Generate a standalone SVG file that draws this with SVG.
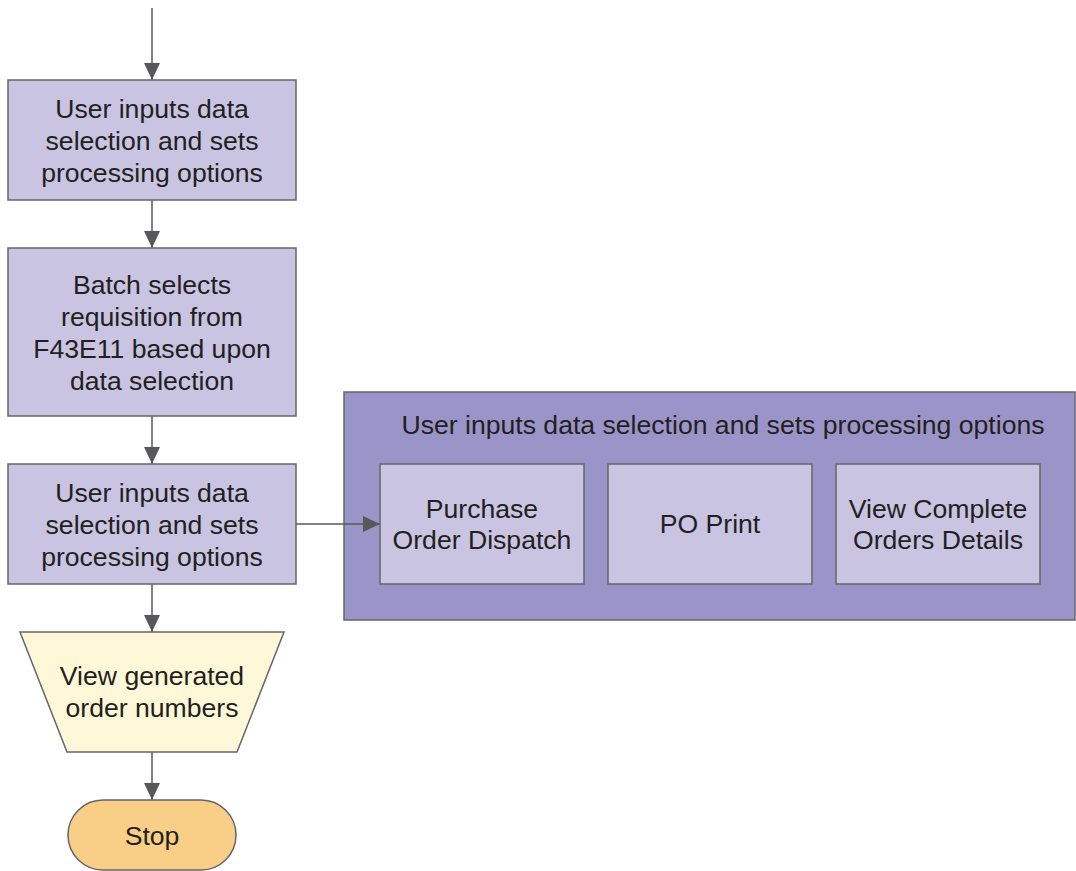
<svg xmlns="http://www.w3.org/2000/svg" width="1076" height="871" viewBox="0 0 1076 871">
<style>
text{font-family:"Liberation Sans",Arial,sans-serif;font-size:26.6px;fill:#231f20;text-anchor:middle}
.box{fill:#c8c4e2;stroke:#666;stroke-width:1.5}
.cont{fill:#9b94c9;stroke:#666;stroke-width:1.5}
.conn{stroke:#58585a;stroke-width:1.5;fill:none;marker-end:url(#ah)}
</style>
<defs>
<marker id="ah" markerUnits="userSpaceOnUse" markerWidth="17" markerHeight="16" refX="17" refY="8" orient="auto">
<path d="M0,0 L17,8 L0,16 Z" fill="#58585a"/>
</marker>
</defs>
<g id="n1"><rect class="box" x="8" y="80" width="288" height="120"/>
<text x="152" y="118">User inputs data</text><text x="152" y="150">selection and sets</text><text x="152" y="182">processing options</text></g>
<g id="n2"><rect class="box" x="8" y="248" width="288" height="168"/>
<text x="152" y="294">Batch selects</text><text x="152" y="326">requisition from</text><text x="152" y="358">F43E11 based upon</text><text x="152" y="390">data selection</text></g>
<g id="n3"><rect class="box" x="8" y="464" width="288" height="120"/>
<text x="152" y="502">User inputs data</text><text x="152" y="534">selection and sets</text><text x="152" y="566">processing options</text></g>
<g id="container"><rect class="cont" x="344" y="392" width="731" height="228"/>
<text x="723" y="434">User inputs data selection and sets processing options</text></g>
<g id="n4"><rect class="box" x="380" y="464" width="204" height="120"/>
<text x="482" y="518">Purchase</text><text x="482" y="549">Order Dispatch</text></g>
<g id="n5"><rect class="box" x="608" y="464" width="204" height="120"/>
<text x="710" y="533">PO Print</text></g>
<g id="n6"><rect class="box" x="836" y="464" width="204" height="120"/>
<text x="938" y="518">View Complete</text><text x="938" y="549">Orders Details</text></g>
<g id="n7"><polygon points="20,632 284,632 237,752 67,752" fill="#fef8d8" stroke="#666" stroke-width="1.5"/>
<text x="152" y="685">View generated</text><text x="152" y="717">order numbers</text></g>
<g id="n8"><rect x="68" y="800" width="168" height="70" rx="35" ry="35" fill="#f9cf88" stroke="#666" stroke-width="1.5"/>
<text x="152" y="845">Stop</text></g>
<g id="connectors">
<line class="conn" x1="152" y1="8" x2="152" y2="80"/>
<line class="conn" x1="152" y1="200" x2="152" y2="248"/>
<line class="conn" x1="152" y1="416" x2="152" y2="464"/>
<line class="conn" x1="152" y1="584" x2="152" y2="632"/>
<line class="conn" x1="152" y1="752" x2="152" y2="800"/>
<line class="conn" x1="296" y1="524" x2="380" y2="524"/>
</g>
</svg>
